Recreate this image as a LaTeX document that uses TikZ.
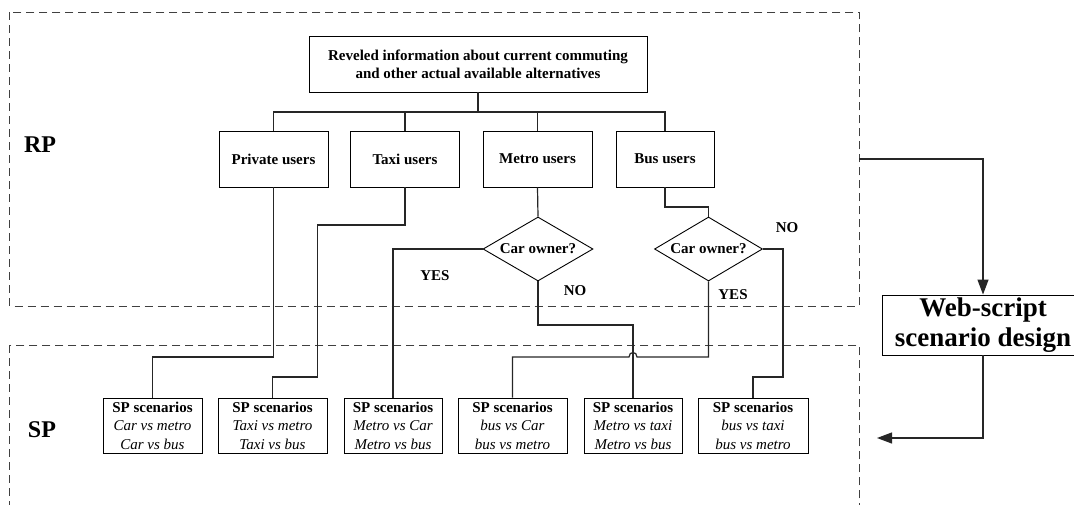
\documentclass[tikz,border=0pt]{standalone}
\usepackage{fontspec}
\setmainfont{Liberation Serif}
\usetikzlibrary{shapes.geometric,arrows.meta}
\tikzset{
  box/.style={draw, line width=0.9pt, inner sep=0pt, align=center, font=\fontsize{15}{18}\selectfont\bfseries},
  spbox/.style={draw, line width=0.9pt, inner sep=0pt, align=center, minimum height=55pt, font=\fontsize{15}{18.5}\selectfont},
  dia/.style={draw, diamond, line width=0.9pt, inner sep=0pt, shape aspect=1.7, minimum width=110pt, minimum height=64pt, font=\fontsize{15}{18}\selectfont\bfseries},
  conn/.style={line width=1.2pt, draw=black!85},
  region/.style={dashed, dash pattern=on 8pt off 5pt, line width=0.8pt, draw=black!75},
  lbl/.style={font=\fontsize{15}{18}\selectfont\bfseries, inner sep=0pt},
  big/.style={font=\fontsize{24}{28}\selectfont\bfseries, inner sep=0pt},
  arr/.style={conn, -{Triangle[length=15pt,width=11pt]}}
}
\begin{document}
\begin{tikzpicture}[x=1pt,y=-1pt]
\useasboundingbox (0,0) rectangle (1074,504);
% regions
\draw[region] (9.6,12) rectangle (859,306);
\draw[region] (9.6,345) rectangle (859,530);
\node[big] (rp) at (40,145) {RP};
\node[big] (sp) at (42,430) {SP};
% top
\node[box, minimum width=338pt, minimum height=56pt] (top) at (478,64) {Reveled information about current commuting\\and other actual available alternatives};
% users
\node[box, minimum width=109pt, minimum height=56pt] (private) at (273.5,159) {Private users};
\node[box, minimum width=109.5pt, minimum height=56pt] (taxi) at (405,159) {Taxi users};
\node[box, minimum width=109pt, minimum height=56pt] (metro) at (537.5,159) {Metro users};
\node[box, minimum width=98pt, minimum height=56pt] (bus) at (665,159) {Bus users};
% diamonds
\node[dia] (d1) at (538,249) {Car owner?};
\node[dia, minimum width=108pt] (d2) at (708.5,249) {Car owner?};
% SP boxes
\node[spbox, minimum width=99pt] (b1) at (152.5,425.5) {\textbf{SP scenarios}\\\textit{Car vs metro}\\\textit{Car vs bus}};
\node[spbox, minimum width=109pt] (b2) at (272.5,425.5) {\textbf{SP scenarios}\\\textit{Taxi vs metro}\\\textit{Taxi vs bus}};
\node[spbox, minimum width=98pt] (b3) at (393,425.5) {\textbf{SP scenarios}\\\textit{Metro vs Car}\\\textit{Metro vs bus}};
\node[spbox, minimum width=109pt] (b4) at (512.5,425.5) {\textbf{SP scenarios}\\\textit{bus vs Car}\\\textit{bus vs metro}};
\node[spbox, minimum width=98pt] (b5) at (633,425.5) {\textbf{SP scenarios}\\\textit{Metro vs taxi}\\\textit{Metro vs bus}};
\node[spbox, minimum width=110pt] (b6) at (753,425.5) {\textbf{SP scenarios}\\\textit{bus vs taxi}\\\textit{bus vs metro}};
% web script
\node[draw, line width=0.9pt, inner sep=0pt, minimum width=202pt, minimum height=60pt, align=center, font=\fontsize{27}{30}\selectfont\bfseries] (web) at (983,325) {Web-script\\scenario design};
% labels
\node[lbl] (yes1) at (435,276) {YES};
\node[lbl] (no1) at (575,291) {NO};
\node[lbl] (no2) at (787,228) {NO};
\node[lbl] (yes2) at (733,295) {YES};
% connectors
\coordinate (hub) at (478,112);
\draw[conn] (top.south) -- (hub);
\draw[conn] (private.north) -- (private.north |- hub) -- (bus.north |- hub) -- (bus.north);
\draw[conn] (taxi.north) -- (taxi.north |- hub);
\draw[conn] (metro.north) -- (metro.north |- hub);
\draw[conn] (private.south) -- (273.5,357) -- (152.5,357) -- (b1.north);
\draw[conn] (taxi.south) -- (405,225) -- (317.5,225) -- (317.5,377) -- (272.5,377) -- (b2.north);
\draw[conn] (metro.south) -- (d1.north);
\draw[conn] (bus.south) -- (665,207) -- (708.5,207) -- (d2.north);
\draw[conn] (d1.west) -| (b3.north);
\draw[conn] (d1.south) -- (538,325) -| (b5.north);
\draw[conn] (d2.south) -- (708.5,357) -- (637,357) .. controls (637,351) and (629,351) .. (629,357) -- (512.5,357) -- (b4.north);
\draw[conn] (d2.east) -- (783,249) -- (783,377) -- (753,377) -- (b6.north);
% arrows
\coordinate (rpR) at (859,159);
\coordinate (spR) at (877,438);
\draw[arr] (rpR) -| (web.north);
\draw[arr] (web.south) |- (spR);
\end{tikzpicture}
\end{document}
